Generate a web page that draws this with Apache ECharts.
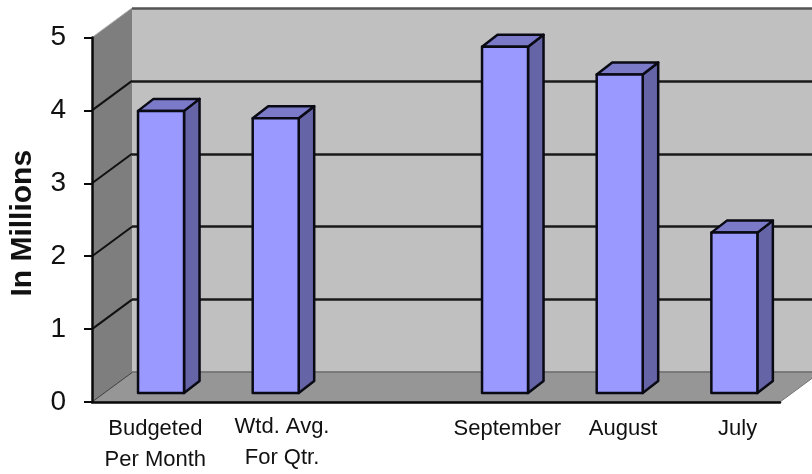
<!DOCTYPE html>
<html><head><meta charset="utf-8">
<style>html,body{margin:0;padding:0;background:#fff}#c{width:812px;height:474px}</style>
<script src="https://cdn.jsdelivr.net/npm/echarts@6/dist/echarts.min.js"></script>
</head><body><div id="c"></div>
<script>
const categories = ['Budgeted\nPer Month', 'Wtd. Avg.\nFor Qtr.', '', 'September', 'August', 'July'];
const values = [3.87, 3.77, '-', 4.75, 4.37, 2.2];
const yTicks = [0, 1, 2, 3, 4, 5];
const labelShift = [12, 36, 0, 28, 30, 30];
const labelDrop = [2, 0, 0, 2, 2, 2];

const DX = 40, DY = -29.5;            // wall depth
const BAR_DX = 11.7, BAR_DY = -9;     // bar position within the depth
const BAR_W = 46, BD_X = 15.5, BD_Y = -12; // bar width and depth

function frame(params, api) {
  const cs = params.coordSys;
  const L = cs.x, T = cs.y, R = cs.x + cs.width, B = cs.y + cs.height;
  const kids = [
    { type: 'polygon', shape: { points: [[L, T], [L + DX, T + DY], [L + DX, B + DY], [L, B]] },
      style: { fill: '#7e7e7e', stroke: null } },
    { type: 'polygon', shape: { points: [[L, B], [L + DX, B + DY], [R + DX, B + DY], [R, B]] },
      style: { fill: '#969696', stroke: '#777', lineWidth: 1 } }
  ];
  yTicks.forEach(t => {
    const y = api.coord([0, t])[1];
    kids.push({ type: 'line', shape: { x1: L, y1: y, x2: L + DX, y2: y + DY },
      style: { stroke: t === 0 ? '#444' : (t === 5 ? '#aaa' : '#111'), lineWidth: t === 0 ? 1 : (t === 5 ? 1 : 2) } });
  });
  return { type: 'group', children: kids };
}

function bar(params, api) {
  const v = api.value(1);
  if (isNaN(v)) return;
  const top = api.coord([api.value(0), v]);
  const base = api.coord([api.value(0), 0]);
  const x0 = top[0] + BAR_DX - BAR_W / 2, x1 = x0 + BAR_W;
  const y0 = top[1] + BAR_DY, y1 = base[1] + BAR_DY;
  const edge = { stroke: '#0a0a14', lineWidth: 2.5, lineJoin: 'round' };
  return { type: 'group', children: [
    { type: 'polygon', shape: { points: [[x1, y0], [x1 + BD_X, y0 + BD_Y], [x1 + BD_X, y1 + BD_Y], [x1, y1]] },
      style: Object.assign({ fill: '#6464a6' }, edge) },
    { type: 'polygon', shape: { points: [[x0, y0], [x0 + BD_X, y0 + BD_Y], [x1 + BD_X, y0 + BD_Y], [x1, y0]] },
      style: Object.assign({ fill: '#7a7ac8' }, edge) },
    { type: 'rect', shape: { x: x0, y: y0, width: BAR_W, height: y1 - y0 },
      style: Object.assign({ fill: '#9999ff' }, edge) }
  ] };
}

const chart = echarts.init(document.getElementById('c'), null, { renderer: 'canvas' });
chart.setOption({
  animation: false,
  backgroundColor: '#fff',
  textStyle: { fontFamily: '"Liberation Sans", Arial, sans-serif' },
  grid: [
    { left: 92, top: 37.5, width: 688, height: 364.5, outerBoundsMode: 'none' },
    { left: 132, top: 8, width: 688, height: 364.5, outerBoundsMode: 'none', show: true, backgroundColor: '#c0c0c0', borderWidth: 0 }
  ],
  xAxis: [
    { type: 'category', gridIndex: 0, data: categories.map((c, i) => ({
        value: c, textStyle: { padding: [labelDrop[i], 0, 0, labelShift[i]] } })),
      z: 5,
      axisLine: { show: true, lineStyle: { color: '#0a0a0a', width: 2.5 } },
      axisTick: { show: false },
      axisLabel: { interval: 0, margin: 9, fontSize: 22, lineHeight: 31, color: '#111', align: 'center',
        fontFamily: '"Liberation Sans", Arial, sans-serif' } },
    { type: 'category', gridIndex: 1, data: categories, show: false }
  ],
  yAxis: [
    { type: 'value', gridIndex: 0, min: 0, max: 5, interval: 1, z: 5,
      name: 'In Millions', nameLocation: 'middle', nameGap: 54, nameRotate: 90,
      nameTextStyle: { fontSize: 30, fontWeight: 'bold', color: '#111', padding: [0, 7, 0, 0],
        fontFamily: '"Liberation Sans", Arial, sans-serif' },
      axisLine: { show: true, lineStyle: { color: '#0a0a0a', width: 2.5 } },
      axisTick: { show: true, length: 8, lineStyle: { color: '#0a0a0a', width: 2 } },
      splitLine: { show: false },
      axisLabel: { fontSize: 28, color: '#111', margin: 26, fontFamily: '"Liberation Sans", Arial, sans-serif' } },
    { type: 'value', gridIndex: 1, min: 0, max: 5, interval: 1,
      axisLine: { show: false }, axisTick: { show: false }, axisLabel: { show: false },
      splitLine: { show: true, lineStyle: { width: 2.5, color: ['#666', '#1a1a1a', '#1a1a1a', '#1a1a1a', '#1a1a1a', '#555'] } } }
  ],
  series: [
    { type: 'custom', xAxisIndex: 0, yAxisIndex: 0, z: 1, clip: false, silent: true,
      renderItem: frame, data: [[0, 0]] },
    { type: 'custom', xAxisIndex: 0, yAxisIndex: 0, z: 2, clip: false,
      renderItem: bar, encode: { x: 0, y: 1 },
      data: values.map((v, i) => [i, v]) }
  ]
});
</script></body></html>
